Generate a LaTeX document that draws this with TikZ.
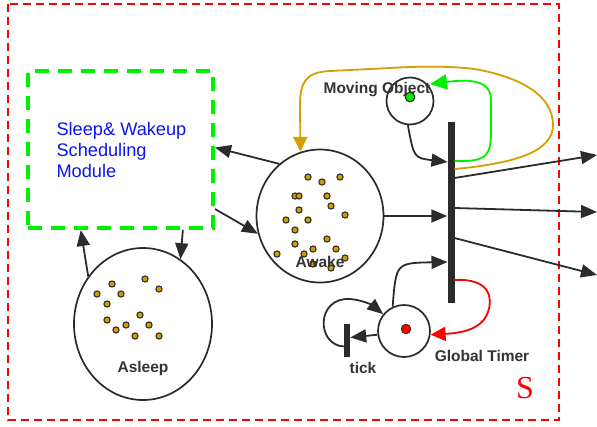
\documentclass[tikz,border=0pt]{standalone}
\usepackage{fontspec}
\setmainfont{Liberation Sans}
\newfontfamily\serifS{Liberation Serif}
\usetikzlibrary{arrows.meta,shapes.geometric,calc}
\definecolor{ink}{HTML}{2B2B2B}
\definecolor{labelgray}{HTML}{333333}
\definecolor{gold}{HTML}{D49F00}
\definecolor{brightgreen}{HTML}{00F000}
\definecolor{markred}{HTML}{FF0000}
\definecolor{textblue}{HTML}{0A14F0}

\begin{document}
\begin{tikzpicture}[x=1pt,y=-1pt,
  arr/.style={-{Triangle[length=16pt,width=13pt]}, line width=1.8pt, draw=ink},
  place/.style={ellipse, draw=ink, line width=1.7pt, inner sep=0pt},
  tokendot/.style={fill=gold, draw=ink, line width=1.1pt},
  trans/.style={rectangle, fill=ink, inner sep=0pt},
  lbl/.style={font=\fontsize{15.5}{18}\selectfont\bfseries, text=labelgray},
]
\useasboundingbox (0,0) rectangle (597,426);

% system boundary
\draw[markred, line width=2.2pt, dash pattern=on 8pt off 5pt] (8,4) rectangle (559,420);
\node[text=markred, font=\serifS\fontsize{32}{34}\selectfont] (sysname) at (525,388) {S};

% scheduling module
\node[draw=brightgreen, line width=4pt, dash pattern=on 14pt off 9pt,
      minimum width=185pt, minimum height=157pt, inner sep=0pt] (box) at (120.5,149.5) {};
\node[anchor=west, align=left, text=textblue, font=\fontsize{18.2}{21}\selectfont]
  (boxtext) at (53,150) {Sleep\& Wakeup\\Scheduling\\Module};

% places
\node[place, minimum width=127pt, minimum height=133pt] (awake) at (320,216) {};
\node[place, minimum width=138pt, minimum height=152pt] (asleep) at (143,324) {};
\node[place, circle, minimum size=47pt] (mo) at (410,101) {};
\node[place, circle, minimum size=52pt] (gt) at (404,331) {};

% transitions
\node[trans, minimum width=7pt, minimum height=181pt] (bar) at (451,212.5) {};
\node[trans, minimum width=6pt, minimum height=33pt] (tick) at (347,340.5) {};

% tokens
\foreach \p in {(308,177),(322,182),(340,177),(295,196),(299,196),(327,196),
                (331,206),(299,210),(286,220),(308,220),(345,215),(295,230),
                (295,244),(327,239),(313,249),(304,254),(336,249),(277,254),
                (345,258),(313,264),(331,268)}
  \filldraw[tokendot] \p circle (3.1);
\foreach \p in {(112,284),(145,279),(97,294),(121,294),(159,289),(107,304),
                (140,315),(107,320),(116,330),(126,325),(149,325),(135,336),(159,336)}
  \filldraw[tokendot] \p circle (3.1);
\filldraw[fill=brightgreen, draw=ink, line width=1.1pt] (410,97) circle (4.8);
\filldraw[fill=markred, draw=ink, line width=0.8pt] (406,329) circle (4.8);

% labels
\node[lbl] (molbl) at (377,90) {Moving Object};
\node[lbl] (awakelbl) at (320,262) {Awake};
\node[lbl] (asleeplbl) at (143,368) {Asleep};
\node[lbl] (ticklbl) at (363,368) {tick};
\node[lbl] (gtlbl) at (482,356) {Global Timer};

% points on the transitions and free ends
\coordinate (inMO) at (447.5,162);
\coordinate (inTimer) at (447.5,262);
\coordinate (outGreen) at (454.5,161);
\coordinate (outGold) at (454.5,169);
\coordinate (outRed) at (454.5,280);
\coordinate (out1a) at (454.5,178);
\coordinate (out2a) at (454.5,208);
\coordinate (out3a) at (454.5,238);
\coordinate (out1) at (597,155);
\coordinate (out2) at (597,212);
\coordinate (out3) at (597,275);

% module <-> places
\draw[arr] (awake.128) -- ([yshift=2pt]box.east);
\draw[arr] ($(box.south east)+(0,-21)$) -- (awake.196);
\draw[arr] ($(box.south west)!0.83!(box.south east)$) -- (asleep.60);
\draw[arr] (asleep.139) -- ($(box.south west)!0.29!(box.south east)$);

% into the main transition
\draw[arr] (awake.east) -- (awake.east -| bar.west);
\draw[arr] (mo.265) .. controls (414,158) .. (inMO);
\draw[arr] (gt.115) .. controls (396,263) .. (inTimer);

% out of the main transition
\draw[arr] (out1a) -- (out1);
\draw[arr] (out2a) -- (out2);
\draw[arr] (out3a) -- (out3);

% feedback arcs
\draw[-{Triangle[length=17pt,width=15pt]}, brightgreen, line width=1.8pt]
  (outGreen) .. controls (488,162) and (491,155) .. (491,130)
  -- (491,100) .. controls (491,80) and (470,79) .. (430,84);
\draw[-{Triangle[length=15pt,width=14pt]}, gold, line width=1.8pt]
  (outGold) .. controls (520,163) and (553,150) .. (553,125)
  .. controls (553,95) and (520,78) .. (480,70)
  .. controls (460,66) and (420,66) .. (390,68)
  -- (330,71) .. controls (306,72) and (300,82) .. (300,105)
  -- (awake.107);
\draw[-{Triangle[length=15pt,width=14pt]}, markred, line width=1.8pt]
  (outRed) .. controls (490,278) and (493,298) .. (488,312)
  .. controls (482,330) and (460,333) .. (gt.-8);

% clock loop
\draw[arr] (gt.188) -- ([yshift=3pt]tick.east);
\draw[arr] ([yshift=-6pt]tick.west) .. controls (316,345) and (316,297) .. (350,299)
  .. controls (362,300) and (372,305) .. (gt.141);
\end{tikzpicture}
\end{document}
